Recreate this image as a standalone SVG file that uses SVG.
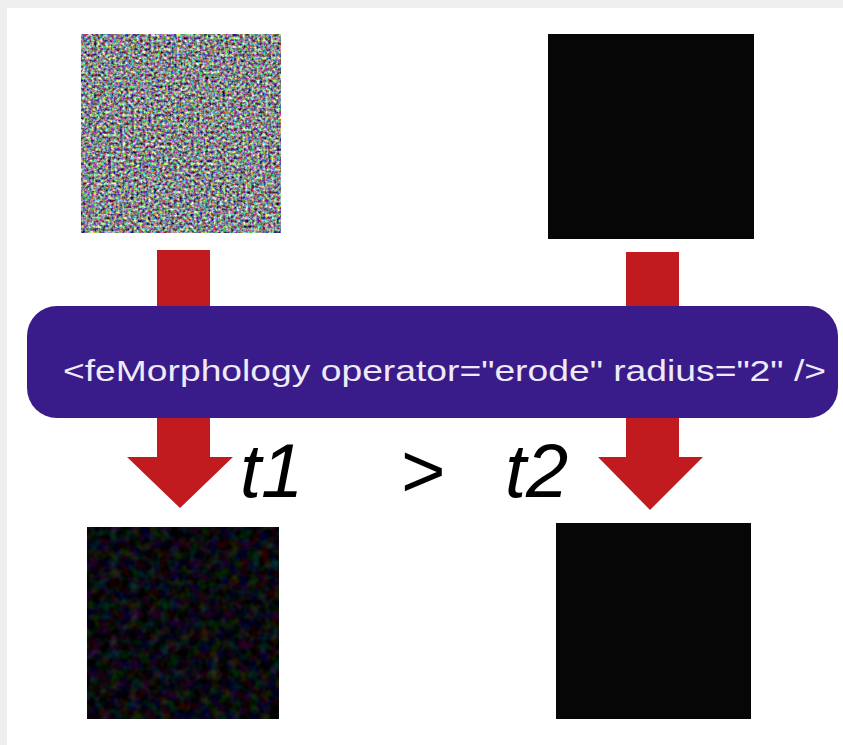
<svg xmlns="http://www.w3.org/2000/svg" width="843" height="745" viewBox="0 0 843 745">
  <style>
    .arrow { fill: #c11a1f; }
    .label { font-family: "Liberation Sans", Arial, sans-serif; font-size: 30px; fill: #eeeaf7; }
    .cmp { font-family: "Liberation Sans", Arial, sans-serif; font-style: italic; font-size: 76px; fill: #000; }
    .solid { fill: #060606; }
  </style>
  <defs>
    <filter id="noise" x="0" y="0" width="1" height="1" filterUnits="objectBoundingBox" color-interpolation-filters="sRGB">
      <feTurbulence type="fractalNoise" baseFrequency="0.35" numOctaves="2" seed="3"/>
      <feComponentTransfer>
        <feFuncR type="linear" slope="2.0" intercept="-0.48"/>
        <feFuncG type="linear" slope="2.0" intercept="-0.46"/>
        <feFuncB type="linear" slope="2.0" intercept="-0.44"/>
        <feFuncA type="linear" slope="0" intercept="1"/>
      </feComponentTransfer>
      <feColorMatrix type="saturate" values="0.7"/>
    </filter>
    <filter id="darknoise" x="0" y="0" width="1" height="1" filterUnits="objectBoundingBox" color-interpolation-filters="sRGB">
      <feTurbulence type="fractalNoise" baseFrequency="0.1" numOctaves="2" seed="7"/>
      <feComponentTransfer>
        <feFuncR type="linear" slope="0.4" intercept="-0.16"/>
        <feFuncG type="linear" slope="0.4" intercept="-0.16"/>
        <feFuncB type="linear" slope="0.45" intercept="-0.16"/>
        <feFuncA type="linear" slope="0" intercept="1"/>
      </feComponentTransfer>
    </filter>
  </defs>

  <rect x="0" y="0" width="843" height="745" fill="#efefef"/>
  <rect x="7" y="8" width="836" height="737" fill="#ffffff"/>

  <g id="input-noise">
    <rect x="81" y="34" width="200" height="199" fill="#888" filter="url(#noise)"/>
  </g>
  <g id="input-black">
    <rect class="solid" x="548" y="34" width="206" height="205"/>
  </g>
  <g id="output-noise">
    <rect x="87" y="527" width="192" height="192" fill="#000" filter="url(#darknoise)"/>
  </g>
  <g id="output-black">
    <rect class="solid" x="556" y="523" width="195" height="196"/>
  </g>

  <g id="connectors">
    <path class="arrow" d="M157,250 H210 V457 H233 L180,508 L127,457 H157 Z"/>
    <path class="arrow" d="M626,252 H679 V457 H703 L650,510 L598,457 H626 Z"/>
  </g>

  <g id="filter-bar">
    <rect x="27" y="306" width="811" height="112" rx="30" ry="30" fill="#3a1b8a"/>
    <text class="label" x="63" y="381" textLength="763" lengthAdjust="spacingAndGlyphs">&lt;feMorphology operator="erode" radius="2" /&gt;</text>
  </g>

  <g id="comparison">
    <text class="cmp" x="240" y="497">t1</text>
    <text class="cmp" x="400" y="497">&gt;</text>
    <text class="cmp" x="505" y="497">t2</text>
  </g>
</svg>
